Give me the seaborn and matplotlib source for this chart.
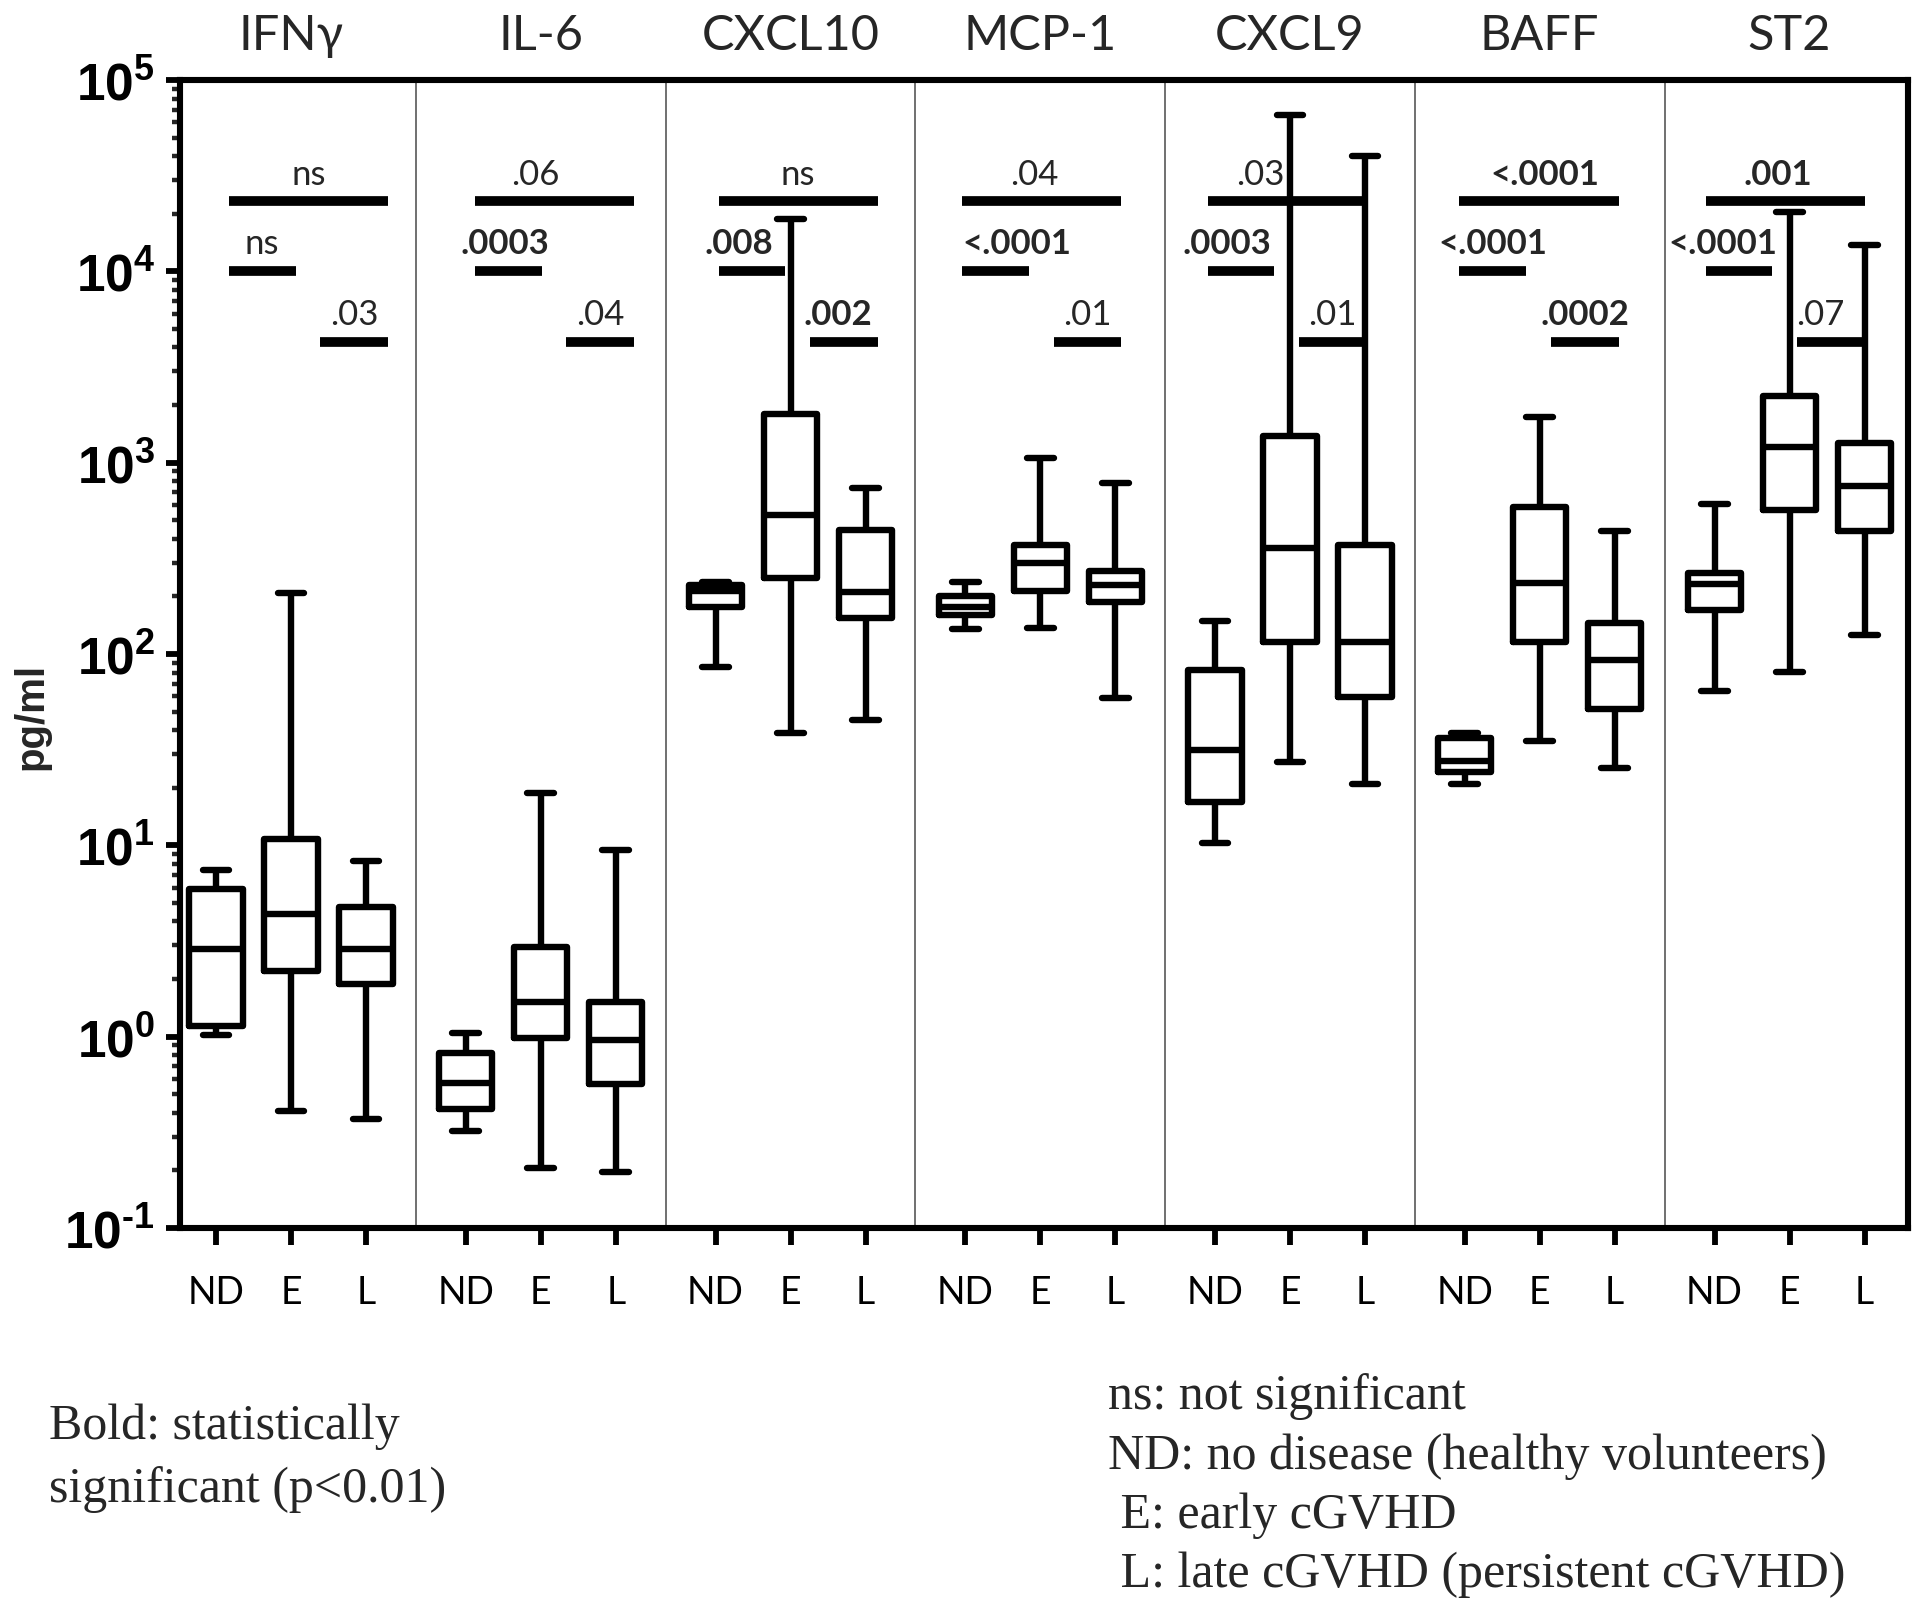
import numpy as np
import pandas as pd
import matplotlib
matplotlib.use("Agg")
import matplotlib.pyplot as plt
import matplotlib.transforms as mtrans
from matplotlib.ticker import FixedLocator, LogLocator, NullFormatter
import seaborn as sns

# ---- data (pg/ml) ----
cytokines = ["IFNγ", "IL-6", "CXCL10", "MCP-1", "CXCL9", "BAFF", "ST2"]
groups = ["ND", "E", "L"]

# whisker low, q1, median, q3, whisker high
nd_stats = [
    [1.02, 1.13, 2.87, 5.9, 7.4],
    [0.32, 0.42, 0.575, 0.82, 1.04],
    [86, 177, 214, 229, 238],
    [135, 159, 177, 200, 238],
    [10.3, 16.9, 31.6, 82, 148],
    [21, 24.1, 27.5, 36.5, 38.5],
    [64.3, 169, 232, 266, 610],
]
e_stats = [
    [0.41, 2.2, 4.4, 10.8, 208],
    [0.205, 0.98, 1.52, 2.94, 18.7],
    [38.7, 249, 532, 1800, 18800],
    [136, 214, 299, 370, 1054],
    [27.2, 115, 358, 1377, 65300],
    [35, 115, 235, 586, 1738],
    [80.8, 565, 1208, 2220, 20500],
]
l_stats = [
    [0.37, 1.88, 2.87, 4.76, 8.3],
    [0.195, 0.565, 0.955, 1.52, 9.4],
    [45.4, 155, 210, 445, 734],
    [58.6, 188, 229, 271, 785],
    [21, 59.4, 115, 371, 40300],
    [25.5, 51.7, 93, 145, 439],
    [125, 438, 759, 1260, 13800],
]

# p-values: ND vs L (top bar), ND vs E, E vs L
p_nd_l = ["ns", ".06", "ns", ".04", ".03", "<.0001", ".001"]
p_nd_e = ["ns", ".0003", ".008", "<.0001", ".0003", "<.0001", "<.0001"]
p_e_l = [".03", ".04", ".002", ".01", ".01", ".0002", ".07"]
bold_nd_l = [False, False, False, False, False, True, True]
bold_nd_e = [False, True, True, True, True, True, True]
bold_e_l = [False, False, True, False, False, True, False]

# ---- layout ----
STEP = 3.33
bar_y = [23300, 10070, 4290]
bar_shift = [0.17, 0.12, 0.04, -0.04, -0.10, -0.07, -0.12]
nudge_top = [0, -0.25, 0, -0.1, -0.36, 0.08, -0.1]
nudge_mid = [0, -0.05, -0.17, 0.28, -0.18, 0, -0.21]
nudge_low = [0, 0, -0.08, 0, 0, 0, -0.14]

rows = []
for i, cyt in enumerate(cytokines):
    for gi, stats in enumerate([nd_stats[i], e_stats[i], l_stats[i]]):
        for v in stats:
            rows.append({"cytokine": cyt, "group": groups[gi],
                         "pos": i * STEP + gi, "value": v})
df = pd.DataFrame(rows)

sns.set_style("ticks")
plt.rcParams["font.family"] = ["Lato", "DejaVu Sans"]
plt.rcParams["mathtext.fontset"] = "custom"
plt.rcParams["mathtext.rm"] = "Liberation Sans:bold"
plt.rcParams["mathtext.bf"] = "Liberation Sans:bold"
plt.rcParams["mathtext.default"] = "bf"

fig = plt.figure(figsize=(19.2, 16.13), dpi=100)
ax = fig.add_axes([0.09375, 0.2387, 0.9, 0.7117])

sns.boxplot(data=df, x="pos", y="value", native_scale=True,
            log_scale=(False, True), whis=(0, 100), width=0.71,
            fill=False, color="black", linewidth=4.6, showfliers=False, ax=ax)

ax.set_ylim(0.1, 1e5)
ax.set_xlim(-0.48, 6 * STEP + 2 + 0.58)

# panel dividers
for p in range(1, len(cytokines)):
    ax.axvline(p * STEP - 0.665, color="#707070", lw=1.4, zorder=0)

# significance bars and labels
for i in range(len(cytokines)):
    s = i * STEP + bar_shift[i]
    spans = [(s, s + 2.12), (s, s + 0.89), (s + 1.22, s + 2.12)]
    labels = [p_nd_l[i], p_nd_e[i], p_e_l[i]]
    bolds = [bold_nd_l[i], bold_nd_e[i], bold_e_l[i]]
    nudges = [nudge_top[i], nudge_mid[i], nudge_low[i]]
    for (x0, x1), y, lab, b, n in zip(spans, bar_y, labels, bolds, nudges):
        ax.plot([x0, x1], [y, y], color="black", lw=7,
                solid_capstyle="butt", zorder=3)
        ax.text((x0 + x1) / 2 + n, y * 1.22, lab, ha="center", va="baseline",
                fontsize=25, fontweight="bold" if b else "normal",
                family="Lato", zorder=4)

# panel titles
trans = mtrans.blended_transform_factory(ax.transData, ax.transAxes)
for i, cyt in enumerate(cytokines):
    ax.text(i * STEP + 1, 1.038, cyt, transform=trans, ha="center",
            va="center", fontsize=35, family=["Lato", "DejaVu Sans"])

# axes styling
for sp in ax.spines.values():
    sp.set_linewidth(4.4)
    sp.set_color("black")

ax.yaxis.set_major_locator(FixedLocator([10.0 ** k for k in range(-1, 6)]))
ax.set_yticklabels([r"$10^{\text{-}1}$"] + [r"$10^{%d}$" % k for k in range(0, 6)])
ax.yaxis.set_minor_locator(LogLocator(base=10, subs=np.arange(2, 10), numticks=20))
ax.yaxis.set_minor_formatter(NullFormatter())
ax.tick_params(axis="y", which="major", length=10, width=4.2, labelsize=37,
               pad=8, direction="out", colors="black")
ax.tick_params(axis="y", which="minor", length=5.5, width=3.2, direction="out")

xpos = [i * STEP + gi for i in range(len(cytokines)) for gi in range(3)]
ax.set_xticks(xpos)
ax.set_xticklabels(groups * len(cytokines), fontsize=27, family="Lato")
ax.tick_params(axis="x", which="major", length=12, width=4.2, pad=22,
               direction="out", colors="black")
ax.tick_params(axis="x", which="minor", bottom=False)

ax.set_xlabel("")
ax.set_ylabel("")
ax.text(-0.086, 0.446, "pg/ml", transform=ax.transAxes, rotation=90,
        ha="center", va="center", fontsize=29, fontweight="bold",
        family="Liberation Sans")

# footnotes
serif = "Liberation Serif"
fig.text(0.0255, 0.1153, "Bold: statistically", family=serif, fontsize=36, va="center")
fig.text(0.0255, 0.0763, "significant (p<0.01)", family=serif, fontsize=36, va="center")
notes = ["ns: not significant", "ND: no disease (healthy volunteers)",
         " E: early cGVHD", " L: late cGVHD (persistent cGVHD)"]
for txt, y in zip(notes, [0.1345, 0.0967, 0.0602, 0.0236]):
    fig.text(0.577, y, txt, family=serif, fontsize=36, va="center")

fig.savefig("out.png", dpi=100)
